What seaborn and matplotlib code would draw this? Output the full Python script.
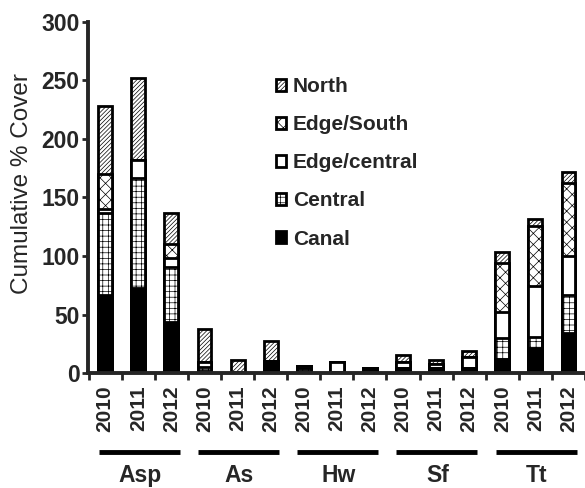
import numpy as np
import pandas as pd
from matplotlib import pyplot as plt
from matplotlib.patches import Patch
import matplotlib.transforms as mtransforms
import seaborn as sns

groups = ["Asp", "As", "Hw", "Sf", "Tt"]
years = ["2010", "2011", "2012"]

# segment values per bar (Asp x3, As x3, Hw x3, Sf x3, Tt x3)
canal        = [67, 73, 44,   2, 1, 10,   2, 1, 2,   4, 4, 4,   12, 21, 34]
central      = [70, 94, 47,   3, 0, 0,    2, 0, 1,   0, 0, 0,   18, 10, 33]
edge_central = [3, 15, 7,     4, 0, 0,    2, 8, 1,   5, 4, 10,  22, 43, 33]
edge_south   = [30, 0, 12,    0, 0, 0,    0, 0, 0,   0, 0, 0,   42, 52, 62]
north        = [58, 70, 27,   29, 10, 17, 0, 0, 0,   6, 3, 5,   9, 6, 10]

bars = [g + " " + y for g in groups for y in years]
df = pd.DataFrame({"bar": bars, "Canal": canal, "Central": central,
                   "Edge/central": edge_central, "Edge/South": edge_south,
                   "North": north})
layers = ["Canal", "Central", "Edge/central", "Edge/South", "North"]
cum = df[layers].cumsum(axis=1)
cum["bar"] = df["bar"]

styles = {
    "North": ("white", "////////"),
    "Edge/South": ("white", "xxx"),
    "Edge/central": ("white", ""),
    "Central": ("white", "+++"),
    "Canal": ("black", ""),
}

sns.set_style("ticks")
plt.rcParams["font.family"] = ["Liberation Sans", "DejaVu Sans"]
plt.rcParams["hatch.linewidth"] = 0.5

fig = plt.figure(figsize=(5.85, 4.88), dpi=100)
ax = fig.add_axes([88 / 585, 115 / 488, 497 / 585, 351 / 488])

# draw cumulative heights from the top layer down so lower layers overlay
for name in layers[::-1]:
    fc, hatch = styles[name]
    sns.barplot(data=cum, x="bar", y=name, order=bars, color=fc,
                edgecolor="black", linewidth=2, hatch=hatch, width=0.42,
                saturation=1, errorbar=None, ax=ax)

ax.set_xlim(-0.52, 14.5)
ax.set_ylim(0, 300)
ax.set_yticks(range(0, 301, 50))
ax.set_xlabel("")
ax.set_ylabel("")
for s in ["top", "right"]:
    ax.spines[s].set_visible(False)
for s in ["left", "bottom"]:
    ax.spines[s].set_linewidth(2.8)

ax.set_xticks(range(15))
ax.set_xticklabels(years * 5, rotation=90, fontsize=15, fontweight="bold")
ax.tick_params(axis="x", which="major", length=0, pad=9)
ax.set_xticks(np.arange(-0.5, 15, 1), minor=True)
ax.tick_params(axis="x", which="minor", length=5, width=2, direction="out")
ax.tick_params(axis="y", length=4, width=2, pad=2, labelsize=16.5)
for lab in ax.get_yticklabels():
    lab.set_fontweight("bold")

trans = mtransforms.blended_transform_factory(ax.transData, ax.transAxes)
for i, g in enumerate(groups):
    start = i * 3
    ax.plot([start - 0.2, start + 2.25], [-0.226, -0.226], color="black",
            lw=3.5, transform=trans, clip_on=False, solid_capstyle="butt")
    ax.text(start + 1.05, -0.293, g, transform=trans, ha="center",
            va="center", fontsize=16.5, fontweight="bold")

fig.text(22 / 585, 1 - 184 / 488, "Cumulative % Cover", rotation=90,
         ha="center", va="center", fontsize=17.5)

handles = [Patch(facecolor=styles[n][0], edgecolor="black", hatch=styles[n][1],
                 linewidth=2, label=n) for n in layers[::-1]]
ax.legend(handles=handles, loc="upper left",
          bbox_to_anchor=(276 / 585, 1 - 77 / 488),
          bbox_transform=fig.transFigure, frameon=False, borderpad=0,
          borderaxespad=0, handlelength=0.5, handleheight=0.5,
          handletextpad=0.3, labelspacing=0.92,
          prop={"size": 15, "weight": "bold"})

fig.savefig("out.png", dpi=100)
